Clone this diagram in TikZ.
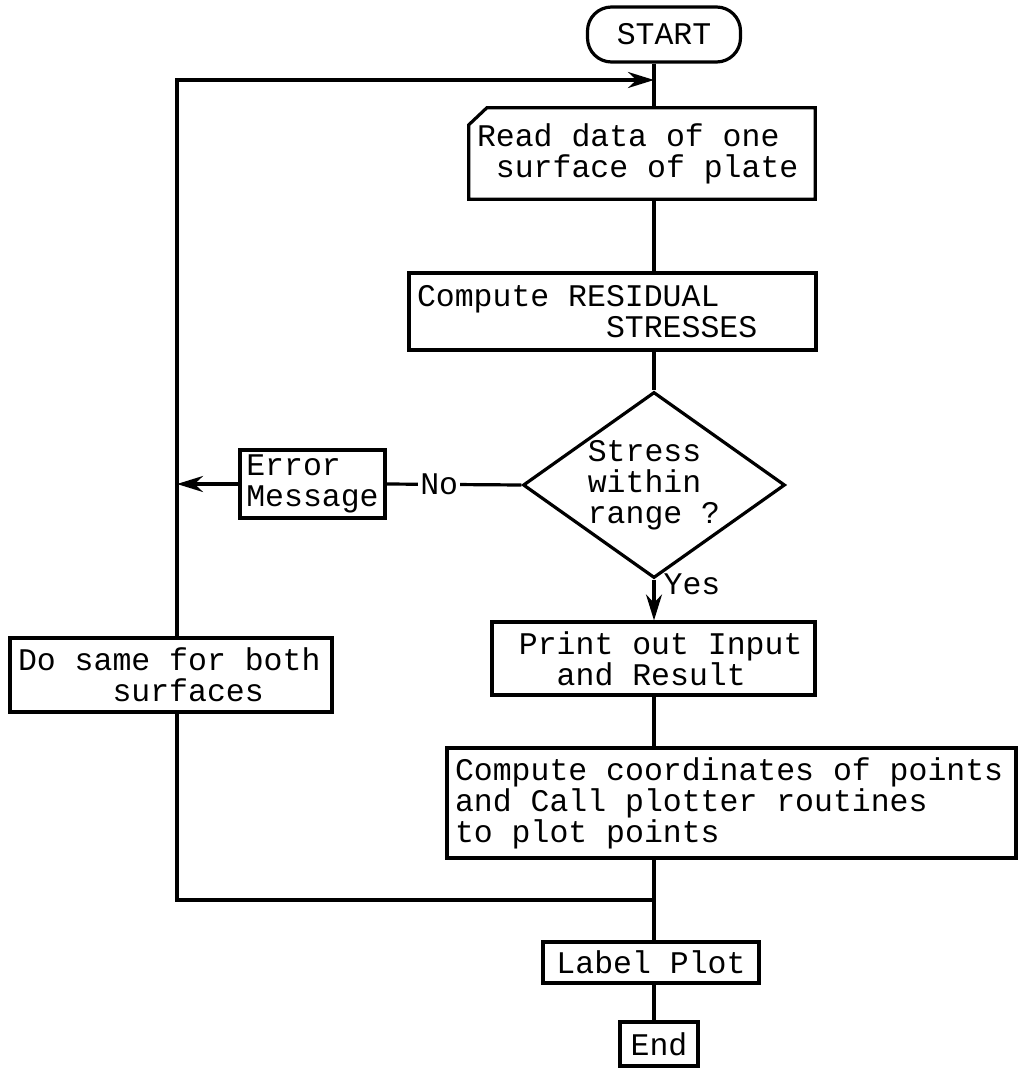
\documentclass[tikz,border=0pt]{standalone}
\usepackage{fontspec}
\newfontfamily\typewr{Liberation Mono}
\usetikzlibrary{shapes.geometric,arrows.meta}
\newcommand{\flowfont}{\typewr\fontsize{31.5}{31}\selectfont}
\newcommand{\ind}[1]{\hspace*{\dimexpr #1em*3/5\relax}}

\begin{document}
\begin{tikzpicture}[x=1pt,y=-1pt,
	line/.style={line width=3.2pt},
	arr/.style={-{Stealth[length=26pt,width=16pt]}},
	mono/.style={font=\flowfont, execute at begin node={\spaceskip=0.6em\xspaceskip=0.6em\relax}},
	box/.style={draw, line width=3.2pt, mono, align=left, inner xsep=8pt, inner ysep=3pt},
	lbl/.style={mono, inner sep=2pt}]
	\useasboundingbox (0,0) rectangle (1019,1068);
	\coordinate (sp) at (654,0);
	\coordinate (top) at (177,80);
	\coordinate (bot) at (177,900);

	\node[box, rounded corners=24pt, minimum width=153pt, minimum height=55pt, align=center] (start) at (664,34.5) {START};
	\node[mono, align=left, text width=330pt, minimum height=91pt, inner xsep=8pt] (read) at (642,153.5) {Read data of one\\\ind{1}surface of plate};
	\draw[line] ([xshift=18pt]read.north west) -- (read.north east) -- (read.south east) -- (read.south west) -- ([yshift=-17pt]read.north west) -- cycle;
	\node[box, text width=391pt, minimum height=77pt] (resid) at (612.5,311.5) {Compute RESIDUAL\\\ind{10}STRESSES};
	\node[box, shape=diamond, aspect=1.41, inner sep=0pt, minimum width=262pt, minimum height=186pt] (range) at (654,485) {Stress\\within\\range ?};
	\node[box, minimum width=145pt, minimum height=68pt, inner xsep=5pt] (err) at (312.5,484) {Error\\Message};
	\node[box, text width=307pt, minimum height=73pt] (print) at (653.5,658.5) {\ind{1}Print out Input\\\ind{3}and Result};
	\node[box, text width=553pt, minimum height=110pt] (coord) at (731.5,803) {Compute coordinates of points\\and Call plotter routines\\to plot points};
	\node[box, text width=306pt, minimum height=74pt] (same) at (171,675) {Do same for both\\\ind{5}surfaces};
	\node[box, minimum width=216pt, minimum height=41pt] (label) at (651,962.5) {Label Plot};
	\node[box, minimum width=78pt, minimum height=44pt] (end) at (659,1044) {End};

	\path[line]
	(start.south -| sp) edge (read.north -| sp)
	(read.south -| sp) edge (resid.north -| sp)
	(resid.south -| sp) edge (range.north)
	(range.west) edge node[pos=0.61, lbl, fill=white] {No} (err.east)
	(print.south -| sp) edge (coord.north -| sp)
	(coord.south -| sp) edge (label.north -| sp)
	(label.south -| sp) edge (end.north -| sp)
	;
	\draw[line] (bot -| sp) -- (bot) -- (same.south -| bot);
	\draw[line,arr] (same.north -| bot) -- (top) -- (top -| sp);
	\path[line,arr]
	(err.west) edge (err.west -| bot)
	(range.south) edge node[pos=0.12, right, lbl, xshift=6pt] {Yes} (print.north -| range.south)
	;
\end{tikzpicture}
\end{document}
